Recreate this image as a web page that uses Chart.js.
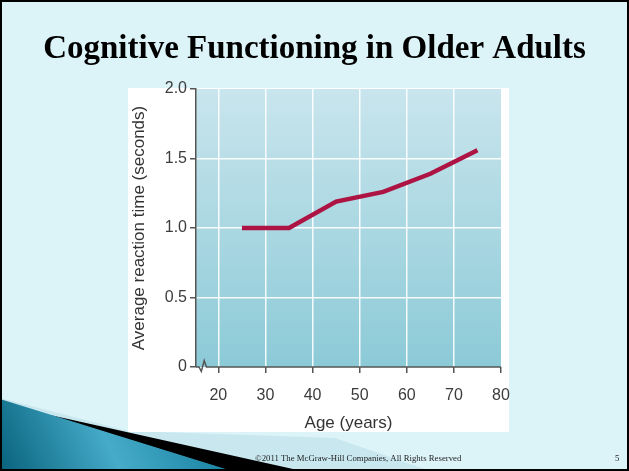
<!DOCTYPE html>
<html>
<head>
<meta charset="utf-8">
<title>Cognitive Functioning in Older Adults</title>
<script src="https://cdn.jsdelivr.net/npm/chart.js@4/dist/chart.umd.min.js"></script>
<style>
  html, body { margin: 0; padding: 0; background: #dcf3f8; }
  canvas { display: block; }
</style>
</head>
<body>
<canvas id="slide" width="629" height="471"></canvas>
<script>
// Reaction time by age
const ages = [25, 35, 45, 55, 65, 75];
const reactionTimes = [1.0, 1.0, 1.19, 1.26, 1.39, 1.56];

// Axis ticks
const ageTicks = [20, 30, 40, 50, 60, 70, 80];
const timeTicks = [0, 0.5, 1.0, 1.5, 2.0];
const timeTickLabels = ['0', '0.5', '1.0', '1.5', '2.0'];

// Text
const titleText = 'Cognitive Functioning in Older Adults';
const xTitle = 'Age (years)';
const yTitle = 'Average reaction time (seconds)';
const footerText = '\u00A92011 The McGraw-Hill Companies, All Rights Reserved';
const pageNumber = '5';

const SANS = '"Liberation Sans", Arial, Helvetica, sans-serif';
const SERIF = '"Liberation Serif", "Times New Roman", serif';

function poly(ctx, pts) {
  ctx.beginPath();
  ctx.moveTo(pts[0][0], pts[0][1]);
  for (let i = 1; i < pts.length; i++) ctx.lineTo(pts[i][0], pts[i][1]);
  ctx.closePath();
  ctx.fill();
}

// Slide background, figure panel, plot-area gradient, heading and footer
const slideBackground = {
  id: 'slideBackground',
  beforeDraw(chart) {
    const ctx = chart.ctx;
    const W = chart.width, H = chart.height;
    const area = chart.chartArea;
    ctx.save();
    ctx.fillStyle = '#dcf3f8';
    ctx.fillRect(0, 0, W, H);

    // pale band behind the corner swoosh
    ctx.fillStyle = '#c8e7ef';
    poly(ctx, [[0, 398], [128, 431], [335, 438], [430, H], [0, H]]);

    // white figure panel
    ctx.fillStyle = '#ffffff';
    ctx.fillRect(128, 88, 381, 344);

    // black wedge of the swoosh
    ctx.fillStyle = '#000000';
    poly(ctx, [[50, 415], [302, H], [230, H]]);

    // teal swoosh
    const g = ctx.createLinearGradient(0, H, 200, 380);
    g.addColorStop(0, '#08627c');
    g.addColorStop(0.5, '#45abc9');
    g.addColorStop(1, '#17809f');
    ctx.fillStyle = g;
    poly(ctx, [[0, 399], [232, H], [0, H]]);

    // plot area gradient
    const pg = ctx.createLinearGradient(0, area.top, 0, area.bottom);
    pg.addColorStop(0, '#c9e5ed');
    pg.addColorStop(1, '#8ccad7');
    ctx.fillStyle = pg;
    ctx.fillRect(area.left, area.top, area.right - area.left, area.bottom - area.top);

    // heading
    ctx.fillStyle = '#000000';
    ctx.font = 'bold 33px ' + SERIF;
    ctx.textAlign = 'center';
    ctx.textBaseline = 'alphabetic';
    ctx.fillText(titleText, W / 2, 58);
    ctx.restore();
  },
  afterDraw(chart) {
    const ctx = chart.ctx;
    const W = chart.width, H = chart.height;
    const area = chart.chartArea;
    const xs = chart.scales.x;
    ctx.save();

    // bottom axis line with a break symbol near the origin
    const y0 = area.bottom;
    const b0 = xs.getPixelForValue(15.9);
    const u = (xs.getPixelForValue(17.8) - b0) / 4;
    ctx.strokeStyle = '#555555';
    ctx.lineWidth = 1.5;
    ctx.lineJoin = 'miter';
    ctx.beginPath();
    ctx.moveTo(area.left, y0);
    ctx.lineTo(b0, y0);
    ctx.lineTo(b0 + u, y0 + 4.5);
    ctx.lineTo(b0 + 2.3 * u, y0 - 6.5);
    ctx.lineTo(b0 + 3.3 * u, y0);
    ctx.lineTo(area.right, y0);
    ctx.stroke();

    // footer
    ctx.fillStyle = '#222222';
    ctx.font = '8.75px ' + SERIF;
    ctx.textBaseline = 'middle';
    ctx.textAlign = 'left';
    ctx.fillText(footerText, 255, 459);
    ctx.fillText(pageNumber, 615, 459);

    // slide frame
    ctx.strokeStyle = '#000000';
    ctx.lineWidth = 2;
    ctx.strokeRect(1, 1, W - 2, H - 2);
    ctx.restore();
  }
};

const interiorX = v => v < ageTicks[ageTicks.length - 1];
const interiorY = v => v > timeTicks[0] && v < timeTicks[timeTicks.length - 1];

new Chart(document.getElementById('slide'), {
  type: 'line',
  data: {
    datasets: [{
      data: ages.map((a, i) => ({ x: a, y: reactionTimes[i] })),
      borderColor: '#ad1443',
      borderWidth: 4.5,
      borderJoinStyle: 'miter',
      borderCapStyle: 'butt',
      pointRadius: 0,
      tension: 0,
      fill: false
    }]
  },
  options: {
    responsive: false,
    animation: false,
    devicePixelRatio: 1,
    layout: { padding: { left: 128, right: 128, top: 89, bottom: 37 } },
    plugins: {
      legend: { display: false },
      tooltip: { enabled: false },
      title: { display: false }
    },
    scales: {
      x: {
        type: 'linear',
        min: 15.25,
        max: 80,
        afterBuildTicks: s => { s.ticks = ageTicks.map(v => ({ value: v })); },
        afterFit: s => { s.height = 67; },
        border: { display: false },
        grid: {
          color: c => interiorX(c.tick.value) ? 'rgba(255,255,255,0.9)' : 'rgba(0,0,0,0)',
          lineWidth: 1.5,
          tickColor: '#555555',
          tickLength: 6,
          tickWidth: 1.5
        },
        ticks: {
          color: '#3c3c3c',
          font: { family: SANS, size: 16 },
          padding: 13,
          maxRotation: 0,
          callback: v => String(v)
        },
        title: {
          display: true,
          text: xTitle,
          color: '#333333',
          font: { family: SANS, size: 17, lineHeight: 1.2 },
          padding: { top: 0, bottom: 0 }
        }
      },
      y: {
        type: 'linear',
        min: 0,
        max: 2,
        afterBuildTicks: s => { s.ticks = timeTicks.map(v => ({ value: v })); },
        afterFit: s => { s.width = 68; },
        border: { display: true, color: '#555555', width: 1.5 },
        grid: {
          color: c => interiorY(c.tick.value) ? 'rgba(255,255,255,0.9)' : 'rgba(0,0,0,0)',
          lineWidth: 1.5,
          tickColor: '#555555',
          tickLength: 6,
          tickWidth: 1.5
        },
        ticks: {
          color: '#3c3c3c',
          font: { family: SANS, size: 16 },
          padding: 3,
          callback: (v, i) => timeTickLabels[i]
        },
        title: {
          display: true,
          text: yTitle,
          color: '#333333',
          font: { family: SANS, size: 17, lineHeight: 1.2 },
          padding: { top: 1, bottom: 0 }
        }
      }
    }
  },
  plugins: [slideBackground]
});
</script>
</body>
</html>
